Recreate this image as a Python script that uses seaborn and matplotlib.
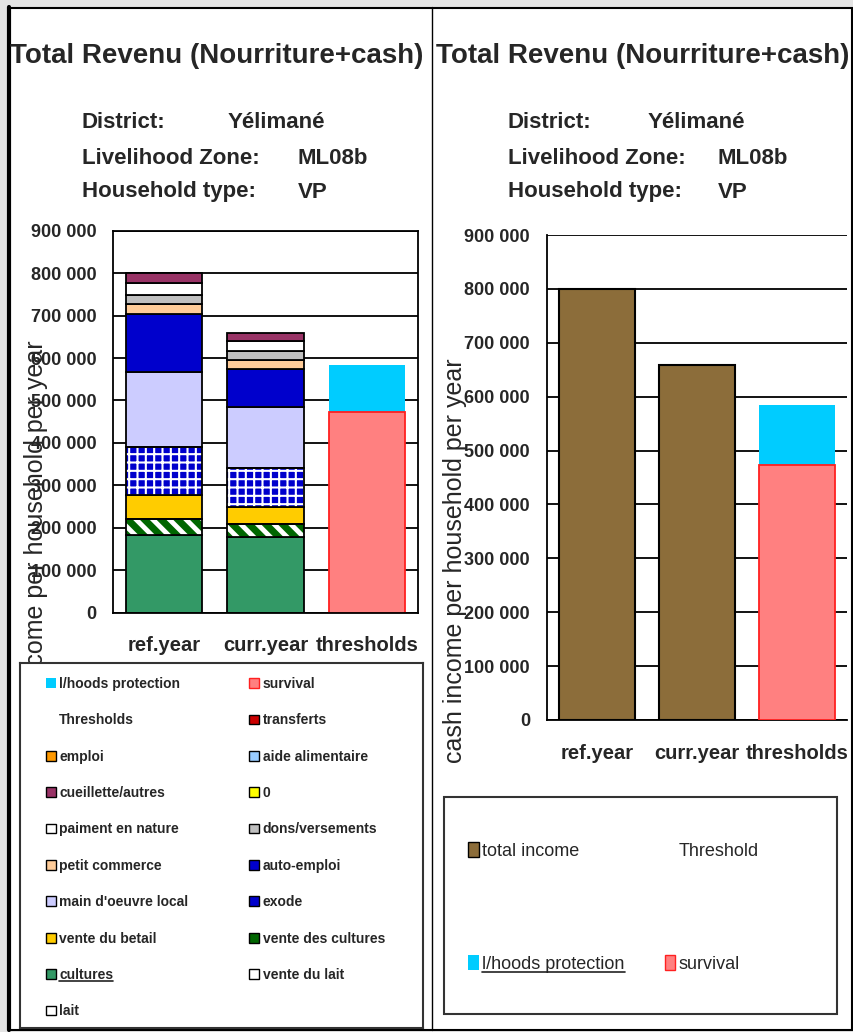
import matplotlib
matplotlib.use('Agg')
import matplotlib.pyplot as plt
from matplotlib.patches import Patch, Rectangle
from matplotlib.lines import Line2D
import pandas as pd
import seaborn as sns

# Catégories et séries
annees = ['ref.year', 'curr.year']
categories = ['ref.year', 'curr.year', 'thresholds']

cultures = [183000, 179000]
vente_des_cultures = [37000, 30000]
vente_du_betail = [57000, 41000]
exode = [114000, 90000]
main_oeuvre_local = [177000, 145000]
auto_emploi = [135000, 89000]
petit_commerce = [24000, 21000]
dons_versements = [22000, 22000]
paiment_en_nature = [27000, 24000]
cueillette_autres = [24000, 17000]
zero_serie = [0, 0]
aide_alimentaire = [0, 0]
emploi = [0, 0]
transferts = [0, 0]
vente_du_lait = [0, 0]
lait = [0, 0]

survival = [473000]
lhoods_protection = [111000]
total_income = [800000, 658000]

W, H = 854, 1032


def px(x, y):
    return x / W, 1 - y / H


sns.set_style('white')
plt.rcParams['font.family'] = ['Liberation Sans', 'DejaVu Sans']

fig = plt.figure(figsize=(W / 100, H / 100), dpi=100, facecolor='#e4e4e4')

# cadres des deux panneaux
fig.patches.append(Rectangle(px(9, 1030), 843 / W, 1022 / H, transform=fig.transFigure,
                             facecolor='white', edgecolor='black', lw=1.5, zorder=-5))
fig.add_artist(Line2D([9 / W, 9 / W], [px(0, 7)[1], px(0, 1030)[1]], color='black', lw=3))
fig.add_artist(Line2D([432 / W, 432 / W], [px(0, 7)[1], px(0, 1030)[1]], color='black', lw=1))

# titres et informations
for x0, xs in [(10, (82, 228, 298)), (436, (508, 648, 718))]:
    fig.text(*px(x0, 56), 'Total Revenu (Nourriture+cash)', fontsize=20, fontweight='bold',
             va='center', ha='left')
    fig.text(*px(xs[0], 123), 'District:', fontsize=16, fontweight='bold', va='center')
    fig.text(*px(xs[1], 123), 'Yélimané', fontsize=16, fontweight='bold', va='center')
    fig.text(*px(xs[0], 158), 'Livelihood Zone:', fontsize=16, fontweight='bold', va='center')
    fig.text(*px(xs[2], 158), 'ML08b', fontsize=16, fontweight='bold', va='center')
    fig.text(*px(xs[0], 192), 'Household type:', fontsize=16, fontweight='bold', va='center')
    fig.text(*px(xs[2], 192), 'VP', fontsize=16, fontweight='bold', va='center')


def fmt(v, pos=None):
    return f'{v:,.0f}'.replace(',', ' ')


def style_axe(ax):
    ax.set_ylim(0, 900000)
    ax.set_xlim(-0.5, 2.5)
    ax.set_yticks(range(0, 900001, 100000))
    ax.yaxis.set_major_formatter(plt.FuncFormatter(fmt))
    ax.grid(axis='y', color='black', lw=1.3)
    ax.set_axisbelow(True)
    ax.set_xticks([0, 1, 2])
    ax.set_xticklabels(categories)
    ax.set_xticks([-0.5, 0.5, 1.5, 2.5], minor=True)
    ax.tick_params(axis='x', which='major', length=0, pad=17, labelsize=14.5)
    ax.tick_params(axis='x', which='minor', length=6, width=1.3, color='black', direction='out')
    ax.tick_params(axis='y', length=5, width=1.3, color='black', direction='out',
                   labelsize=13, pad=7)
    for t in ax.get_yticklabels() + ax.get_xticklabels():
        t.set_fontweight('bold')
    for s in ax.spines.values():
        s.set_color('black')
        s.set_linewidth(1.3)
    ax.set_xlabel('')
    ax.set_ylabel('')


# ---------- graphique gauche : revenu empilé ----------
ax1 = fig.add_axes([113 / W, 1 - 612.7 / H, 305 / W, 382 / H])
ax1.set_facecolor('white')

series = [
    ('cultures', cultures, '#339966', None),
    ('vente des cultures', vente_des_cultures, '#006600', '\\\\'),
    ('vente du betail', vente_du_betail, '#FFCC00', None),
    ('exode', exode, '#0000CC', '++'),
    ("main d'oeuvre local", main_oeuvre_local, '#CCCCFF', None),
    ('auto-emploi', auto_emploi, '#0000CC', None),
    ('petit commerce', petit_commerce, '#FFCC99', None),
    ('dons/versements', dons_versements, '#C0C0C0', None),
    ('paiment en nature', paiment_en_nature, 'white', None),
    ('cueillette/autres', cueillette_autres, '#993366', None),
]
x_pos = list(range(len(annees)))
bas = [0] * len(annees)
for nom, vals, col, hatch in series:
    if hatch:
        with plt.rc_context({'hatch.linewidth': 3.5 if hatch.startswith('\\') else 1.5}):
            ax1.bar(x_pos, vals, bottom=bas, width=0.75, color=col, edgecolor='white',
                    linewidth=0, hatch=hatch, zorder=2)
        ax1.bar(x_pos, vals, bottom=bas, width=0.75, fill=False, edgecolor='black',
                linewidth=1.3, zorder=3)
    else:
        ax1.bar(x_pos, vals, bottom=bas, width=0.75, color=col, edgecolor='black',
                linewidth=1.3, zorder=2)
    bas = [b + v for b, v in zip(bas, vals)]

seuil_total = [s + p for s, p in zip(survival, lhoods_protection)]
ax1.bar([2], lhoods_protection, bottom=survival, width=0.75, color='#00CCFF', linewidth=0, zorder=2)
ax1.bar([2], survival, width=0.75, color='#FF8080', edgecolor='#FF2020', linewidth=1.3, zorder=2)
style_axe(ax1)
ax1.spines['top'].set_visible(True)
ax1.spines['right'].set_visible(True)

# ---------- graphique droit : revenu total (seaborn) ----------
ax2 = fig.add_axes([546.7 / W, 1 - 720 / H, 300 / W, 485 / H])
df_total = pd.DataFrame({'categorie': annees, 'revenu': total_income})
df_seuil = pd.DataFrame({'categorie': ['thresholds'],
                         'total': seuil_total, 'survival': survival})
sns.barplot(data=df_total, x='categorie', y='revenu', order=categories, color='#8C6D3A',
            saturation=1, width=0.76, edgecolor='black', linewidth=1.5, ax=ax2, zorder=2)
sns.barplot(data=df_seuil, x='categorie', y='total', order=categories, color='#00CCFF',
            saturation=1, width=0.76, linewidth=0, ax=ax2, zorder=2)
sns.barplot(data=df_seuil, x='categorie', y='survival', order=categories, color='#FF8080',
            saturation=1, width=0.76, edgecolor='#FF2020', linewidth=1.3, ax=ax2, zorder=3)
style_axe(ax2)
ax2.spines['top'].set_visible(False)
ax2.spines['right'].set_visible(False)

# titres des axes y
fig.text(*px(36, 340), 'cash income per household per year', rotation=90, va='top',
         ha='center', fontsize=18, zorder=1)
fig.text(*px(455, 358), 'cash income per household per year', rotation=90, va='top',
         ha='center', fontsize=18, zorder=1)

# ---------- légende gauche ----------
leg_ax = fig.add_axes([20 / W, 1 - 1028 / H, 403 / W, 365 / H], zorder=5)
leg_ax.set_xticks([])
leg_ax.set_yticks([])
leg_ax.set_facecolor('white')
for s in leg_ax.spines.values():
    s.set_color('#333333')
    s.set_linewidth(1.5)

vide = Patch(facecolor='none', edgecolor='none')
entrees = [
    ('l/hoods protection', Patch(facecolor='#00CCFF', edgecolor='none')),
    ('survival', Patch(facecolor='#FF8080', edgecolor='#FF2020')),
    ('Thresholds', vide),
    ('transferts', Patch(facecolor='#CC0000', edgecolor='black')),
    ('emploi', Patch(facecolor='#FF9900', edgecolor='black')),
    ('aide alimentaire', Patch(facecolor='#99CCFF', edgecolor='black')),
    ('cueillette/autres', Patch(facecolor='#993366', edgecolor='black')),
    ('0', Patch(facecolor='#FFFF00', edgecolor='black')),
    ('paiment en nature', Patch(facecolor='white', edgecolor='black')),
    ('dons/versements', Patch(facecolor='#C0C0C0', edgecolor='black')),
    ('petit commerce', Patch(facecolor='#FFCC99', edgecolor='black')),
    ('auto-emploi', Patch(facecolor='#0000CC', edgecolor='black')),
    ("main d'oeuvre local", Patch(facecolor='#CCCCFF', edgecolor='black')),
    ('exode', Patch(facecolor='#0000CC', edgecolor='black')),
    ('vente du betail', Patch(facecolor='#FFCC00', edgecolor='black')),
    ('vente des cultures', Patch(facecolor='#006600', edgecolor='black')),
    ('cultures', Patch(facecolor='#339966', edgecolor='black')),
    ('vente du lait', Patch(facecolor='white', edgecolor='black')),
    ('lait', Patch(facecolor='white', edgecolor='black')),
]
ordre = entrees[0::2] + entrees[1::2]
leg1 = leg_ax.legend([h for _, h in ordre], [l for l, _ in ordre], ncol=2, loc='upper left',
                     bbox_to_anchor=(26 / 403, 1 - 14 / 365), borderaxespad=0, borderpad=0,
                     frameon=False, handlelength=0.7, handleheight=0.7, handletextpad=0.25,
                     labelspacing=1.61, columnspacing=4.4,
                     prop={'weight': 'bold', 'size': 10})

# ---------- légende droite ----------
fig.patches.append(Rectangle(px(444, 1014), 393 / W, 217 / H, transform=fig.transFigure,
                             facecolor='white', edgecolor='#333333', lw=1.5, zorder=4))
entrees2 = [
    ('total income', Patch(facecolor='#8C6D3A', edgecolor='black')),
    ('l/hoods protection', Patch(facecolor='#00CCFF', edgecolor='none')),
    ('Threshold', vide),
    ('survival', Patch(facecolor='#FF8080', edgecolor='#FF2020')),
]
leg2 = fig.legend([h for _, h in entrees2], [l for l, _ in entrees2], ncol=2, loc='upper left',
                  bbox_to_anchor=px(468, 842), borderaxespad=0, borderpad=0, frameon=False,
                  handlelength=0.6, handleheight=0.9, handletextpad=0.2, labelspacing=5.3,
                  columnspacing=2.2, prop={'size': 13})
leg2.set_zorder(6)

# soulignements
fig.canvas.draw()
rend = fig.canvas.get_renderer()
for leg, lab in [(leg1, 'cultures'), (leg2, 'l/hoods protection')]:
    for t in leg.get_texts():
        if t.get_text() == lab:
            bb = t.get_window_extent(rend).transformed(fig.transFigure.inverted())
            fig.add_artist(Line2D([bb.x0, bb.x1], [bb.y0 + 1 / H, bb.y0 + 1 / H],
                                  color='#222222', lw=1.2, zorder=7))

fig.savefig('out.png', dpi=100, facecolor=fig.get_facecolor())
